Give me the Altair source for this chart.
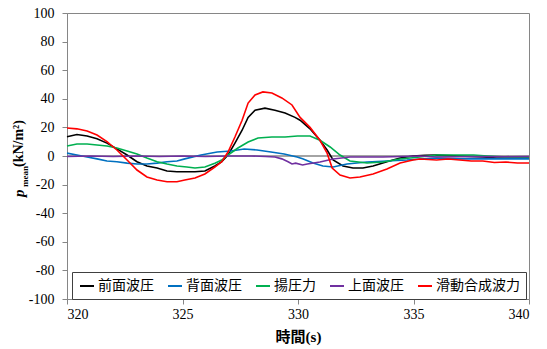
import altair as alt
import pandas as pd

series_names = ["前面波圧", "背面波圧", "揚圧力", "上面波圧", "滑動合成波力"]
series_colors = ["#000000", "#0070C0", "#00B050", "#7030A0", "#FF0000"]

front_t = [320.0, 320.43, 320.87, 321.3, 321.73, 322.16, 322.6, 323.03, 323.46, 323.9, 324.33, 324.76,
           325.19, 325.54, 325.97, 326.4, 326.7, 326.97, 327.27, 327.58, 327.84, 328.14, 328.57, 329.0,
           329.44, 329.87, 330.09, 330.52, 330.95, 331.26, 331.52, 331.95, 332.38, 332.81, 333.25, 333.85,
           334.42, 334.98, 335.5, 336.0, 337.0, 338.0, 338.6, 339.3, 340.0]
front_v = [13.5, 15, 14, 12, 9, 5, 0.7, -4, -7, -8.4, -10.5, -11,
           -11, -11, -10.5, -7, -4, 0.7, 9, 18, 27, 32, 33.5, 32,
           30, 27, 25, 19, 11, 4.2, -2.8, -7, -8.4, -8.4, -7, -4,
           -1.4, 0, 0.5, 0.7, 0, -0.7, -1.4, -1.4, -1.4]

back_t = [320.0, 320.43, 320.87, 321.3, 321.73, 322.16, 322.6, 323.03, 323.46, 323.9, 324.33, 324.76,
          325.1, 325.8, 326.5, 327.1, 327.67, 328.23, 328.83, 329.4, 329.96, 330.2, 330.65, 331.08,
          331.52, 332.12, 332.99, 333.85, 334.72, 335.28, 336.0, 337.0, 338.0, 339.0, 340.0]
back_v = [2, 0.7, -0.7, -2, -3.5, -4, -5, -5.6, -5.6, -5, -4, -3.5,
          -2, 0.7, 2.8, 3.5, 4.9, 4.2, 2.8, 1.4, -0.7, -2, -4.9, -7,
          -7.7, -5.6, -4.2, -3.5, -2.8, -2.1, -1.4, -2, -2, -2, -2]

uplift_t = [320.0, 320.43, 320.87, 321.3, 321.73, 322.16, 322.6, 323.03, 323.46, 323.9, 324.33, 324.76,
            325.19, 325.54, 325.97, 326.4, 326.7, 326.97, 327.4, 327.84, 328.27, 328.87, 329.44, 329.98,
            330.52, 330.95, 331.39, 331.82, 332.25, 332.99, 333.68, 334.42, 335.28, 336.0, 337.0, 337.6,
            338.2, 339.0, 340.0]
uplift_v = [7, 8.4, 8.4, 7.7, 7, 5.6, 3.5, 1.4, -1.4, -4, -5.6, -7,
            -7.7, -8.4, -7.7, -5, -2.8, 0.7, 5.6, 9.8, 12.6, 13.3, 13.3, 14,
            14, 11, 6.3, 0.7, -3.5, -4.9, -4.2, -2.1, -0.7, 0.7, 0.7, 0.7,
            0, -0.7, -0.7]

top_t = [320.0, 321.0, 322.0, 323.0, 324.0, 325.0, 326.0, 327.0, 328.0, 328.6, 329.0, 329.3,
         329.57, 329.74, 329.9, 330.2, 330.4, 330.95, 331.52, 332.25, 333.68, 335.28, 336.0, 337.0,
         338.0, 339.0, 340.0]
top_v = [-0.3, 0, -0.3, 0, -0.3, 0, -0.3, 0, 0, -0.3, -0.7, -2,
         -4, -5.6, -5, -6.3, -5.6, -4.2, -2.1, -0.7, -0.7, 0, -0.7, -0.5,
         -0.3, -0.5, -0.3]

total_t = [320.0, 320.43, 320.87, 321.3, 321.73, 322.16, 322.6, 323.03, 323.46, 323.9, 324.33, 324.76,
           325.1, 325.54, 325.97, 326.4, 326.7, 326.97, 327.27, 327.58, 327.84, 328.14, 328.48, 328.87,
           329.3, 329.74, 330.09, 330.52, 330.95, 331.26, 331.48, 331.82, 332.25, 332.68, 333.25, 333.85,
           334.42, 334.98, 335.28, 336.0, 336.5, 337.0, 337.5, 338.0, 338.5, 339.0, 339.5, 340.0]
total_v = [19.6, 19, 17.5, 14.7, 10, 4.2, -2.8, -9.8, -14.7, -16.8, -18, -18,
           -16.8, -15.4, -12.6, -7.7, -4, 2.8, 13.3, 25, 37, 42.7, 44.8, 44,
           40.6, 35.7, 27, 20, 11, 2, -8.4, -13.3, -15.4, -14.7, -12.6, -9.1,
           -4.9, -2.8, -2.1, -2.8, -2.1, -2.8, -3.5, -3.5, -4.5, -4.2, -4.9, -4.9]

y_ticks = [-100, -80, -60, -40, -20, 0, 20, 40, 60, 80, 100]
x_ticks = [320, 325, 330, 335, 340]

frames = []
for name, ts, vs in zip(series_names,
                        [front_t, back_t, uplift_t, top_t, total_t],
                        [front_v, back_v, uplift_v, top_v, total_v]):
    frames.append(pd.DataFrame({"t": ts, "v": vs, "series": name}))
df = pd.concat(frames, ignore_index=True)

GRAY = "#868686"
SERIF = "Liberation Serif, Noto Sans CJK JP"

y_axis = alt.Axis(values=y_ticks, title=None, grid=False, tickSize=5, labelPadding=8,
                  labelOverlap=False, labelExpr="'' + datum.value")

zero = alt.Chart(alt.Data(values=[{"z": 0}])).mark_rule(color=GRAY, strokeWidth=1.5).encode(
    y=alt.Y("z:Q", scale=alt.Scale(domain=[-100, 100], nice=False), axis=y_axis)
)

lines = alt.Chart(df).mark_line(strokeWidth=1.6).encode(
    x=alt.X("t:Q", scale=alt.Scale(domain=[320, 340], nice=False, zero=False),
            axis=alt.Axis(values=x_ticks, title="時間(s)", grid=False, tickSize=5, labelPadding=3,
                          titlePadding=8, titleFontWeight="bold", titleFont=SERIF, titleFontSize=15,
                          labelOverlap=False, labelExpr="'' + datum.value")),
    y=alt.Y("v:Q", scale=alt.Scale(domain=[-100, 100], nice=False), axis=y_axis),
    color=alt.Color("series:N", sort=series_names,
                    scale=alt.Scale(domain=series_names, range=series_colors),
                    legend=alt.Legend(title=" ", titleOrient="left", titlePadding=1, titleFontSize=10,
                                      orient="none", legendX=5, legendY=259,
                                      direction="horizontal", columns=5, strokeColor="#404040",
                                      fillColor="white", padding=6, symbolType="stroke",
                                      symbolSize=196, symbolStrokeWidth=2,
                                      labelFont="Noto Sans CJK JP", labelFontSize=14,
                                      labelOffset=3, columnPadding=10, labelColor="black")),
    order=alt.Order("t:Q"),
)

one = alt.Data(values=[{"a": 1}])
title_p = alt.Chart(one).mark_text(text="p", angle=270, align="left", baseline="middle",
                                    font="Liberation Serif", fontSize=15, fontWeight="bold",
                                    fontStyle="italic", color="black").encode(
    x=alt.value(-48), y=alt.value(184))
title_sub = alt.Chart(one).mark_text(text="mean", angle=270, align="left", baseline="middle",
                                      font="Liberation Serif", fontSize=9, fontWeight="bold",
                                      color="black").encode(
    x=alt.value(-42), y=alt.value(174))
title_unit = alt.Chart(one).mark_text(text="(kN/m²)", angle=270, align="left", baseline="middle",
                                       font="Liberation Serif", fontSize=14, fontWeight="bold",
                                       color="black").encode(
    x=alt.value(-48), y=alt.value(154))

chart = alt.layer(zero, lines, title_p, title_sub, title_unit).properties(
    width=462, height=286,
    autosize=alt.AutoSizeParams(type="none"),
    padding={"left": 67, "top": 13, "right": 18, "bottom": 50},
).configure_view(stroke=GRAY, strokeWidth=1).configure_axis(
    labelFont="Liberation Serif", labelFontSize=14, labelColor="black",
    domainColor=GRAY, tickColor=GRAY, domainWidth=1, titleColor="black",
    labelOverlap=False,
)

chart.save("out.html", embed_options={"renderer": "svg", "actions": False})
